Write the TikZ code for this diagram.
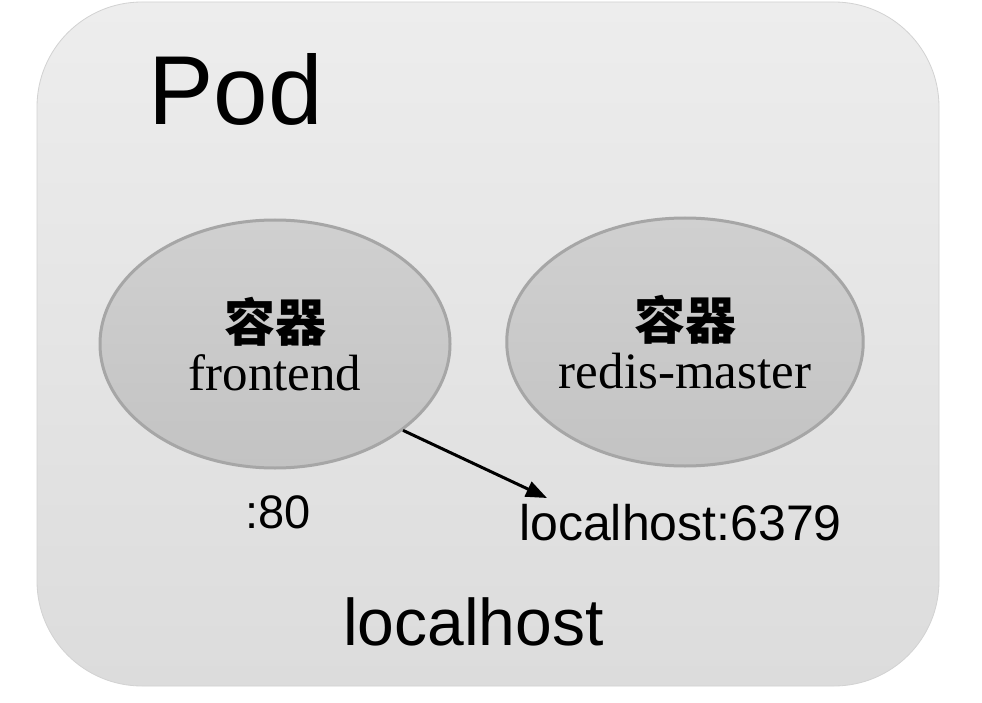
\documentclass[tikz,border=0pt]{standalone}
\usepackage{fontspec}
\setmainfont{Liberation Serif}
\setsansfont{Liberation Sans}
\newfontfamily\cjk{Noto Sans CJK SC}
\usetikzlibrary{shapes.geometric,arrows.meta}
\definecolor{boxtop}{HTML}{EDEDED}
\definecolor{boxbot}{HTML}{DCDCDC}
\definecolor{boxline}{HTML}{D2D2D2}
\definecolor{elltop}{HTML}{D0D0D0}
\definecolor{ellbot}{HTML}{C3C3C3}
\definecolor{ellline}{HTML}{A6A6A6}
\tikzset{
  podbox/.style={rounded corners=105pt, draw=boxline, line width=0.8pt, top color=boxtop, bottom color=boxbot},
  cont/.style={ellipse, draw=ellline, line width=3pt, top color=elltop, bottom color=ellbot,
    minimum width=350pt, minimum height=248pt, inner sep=0pt, align=center,
    font=\fontsize{51}{49}\selectfont},
  lbl/.style={inner sep=0pt, anchor=base west, font=\sffamily},
  conn/.style={line width=3pt, -{Triangle[length=21pt,width=16pt]}}
}
\begin{document}
\begin{tikzpicture}[x=1pt,y=-1pt]
\useasboundingbox (0,0) rectangle (982,703);
\fill[white] (0,0) rectangle (982,703);
\shade[podbox] (37,2) rectangle (939,686);
\node[lbl, font=\sffamily\fontsize{98}{98}\selectfont] (pod) at (148,125) {Pod};
\node[cont] (fe) at (275,344) {{\cjk\bfseries 容器}\\frontend};
\node[cont] (rm) at (685,342) {{\cjk\bfseries 容器}\\redis-master};
\node[lbl, font=\sffamily\fontsize{47}{47}\selectfont] (p80) at (245,528) {:80};
\node[lbl, font=\sffamily\fontsize{50}{50}\selectfont] (lh6379) at (519,540) {localhost:6379};
\node[lbl, font=\sffamily\fontsize{66}{66}\selectfont] (lh) at (343,645) {localhost};
\coordinate (tip) at (547,498);
\draw[conn] (fe.-34.5) -- (tip);
\end{tikzpicture}
\end{document}
